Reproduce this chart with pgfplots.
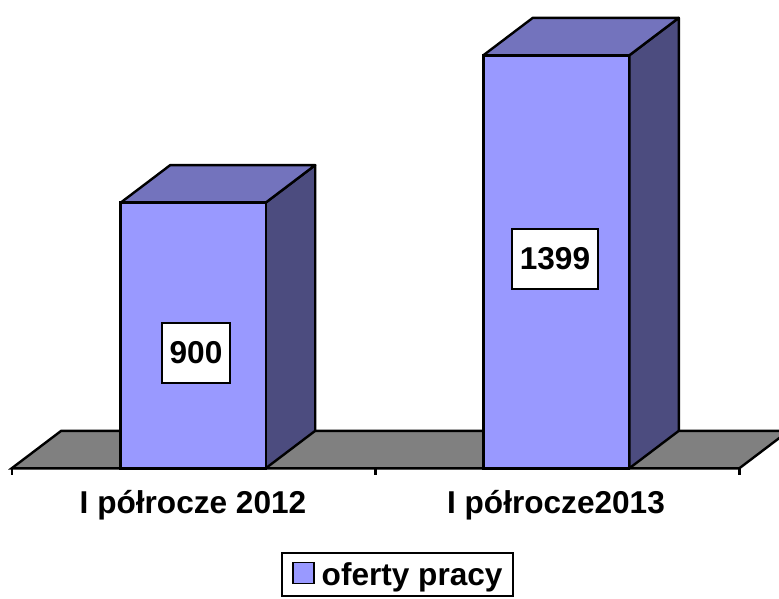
\documentclass[border=0pt]{standalone}
\usepackage{pgfplots}
\pgfplotsset{compat=1.18}
\usepackage{fontspec}
\setmainfont{Liberation Sans}
\definecolor{barfront}{RGB}{153,153,255}
\definecolor{bartop}{RGB}{115,115,189}
\definecolor{barside}{RGB}{76,76,127}
\definecolor{floorc}{RGB}{128,128,128}
\newcommand{\bigbf}{\fontsize{31.6}{37}\selectfont\bfseries}
\begin{document}
\begin{tikzpicture}
\begin{axis}[name=ax,
  scale only axis, width=779pt, height=599pt,
  xmin=0, xmax=779, ymin=-442.7, ymax=1586.4,
  hide axis, clip=true,
  legend style={at={(axis cs:281.2,-282.9)}, anchor=north west,
    draw=black, line width=2pt, font=\bigbf,
    inner xsep=10pt, inner ysep=9pt, column sep=7pt,
    nodes={inner sep=0pt}},
  legend image code/.code={\draw[fill=barfront, draw=black, line width=1.5pt] (0pt,-8.5pt) rectangle (21pt,12.5pt);},
]
% floor
\addplot[fill=floorc, draw=black, line width=2.4pt, forget plot] coordinates {(11.7,0) (739.3,0) (788.8,127) (61.2,127)} -- cycle;
% ticks
\addplot[black, line width=2.4pt, forget plot] coordinates {(11.7,0) (11.7,-23)};
\addplot[black, line width=2.4pt, forget plot] coordinates {(375.5,0) (375.5,-23)};
\addplot[black, line width=2.4pt, forget plot] coordinates {(739.3,0) (739.3,-23)};
% bar 1 sides (value 900)
\addplot[fill=barside, draw=black, line width=2.4pt, line join=round, forget plot] coordinates {(265.7,0) (315.2,127) (315.2,1027) (265.7,900)} -- cycle;
\addplot[fill=bartop, draw=black, line width=2.4pt, line join=round, forget plot] coordinates {(120.7,900) (265.7,900) (315.2,1027) (170.2,1027)} -- cycle;
% bar 2 sides (value 1399)
\addplot[fill=barside, draw=black, line width=2.4pt, line join=round, forget plot] coordinates {(629.3,0) (678.8,127) (678.8,1526) (629.3,1399)} -- cycle;
\addplot[fill=bartop, draw=black, line width=2.4pt, line join=round, forget plot] coordinates {(483.3,1399) (629.3,1399) (678.8,1526) (532.8,1526)} -- cycle;
% fronts
\addplot[ybar, bar width=145.5, fill=barfront, draw=black, line width=2.4pt] coordinates {(193.2,900) (556.3,1399)};
\addlegendentry{oferty pracy\hspace{7pt}}
% data labels
\node[draw=black, line width=2pt, fill=white, inner xsep=8pt, minimum height=60pt, font=\bigbf] at (axis cs:196,390.6) {900};
\node[draw=black, line width=2pt, fill=white, inner xsep=8pt, minimum height=60pt, font=\bigbf] at (axis cs:555,709.2) {1399};
% category labels
\node[anchor=base, font=\bigbf, inner sep=0pt] at (axis cs:193,-152.4) {I półrocze 2012};
\node[anchor=base, font=\bigbf, inner sep=0pt] at (axis cs:556,-152.4) {I półrocze2013};
\end{axis}
\pgfresetboundingbox
\useasboundingbox (ax.south west) rectangle (ax.north east);
\end{tikzpicture}
\end{document}
